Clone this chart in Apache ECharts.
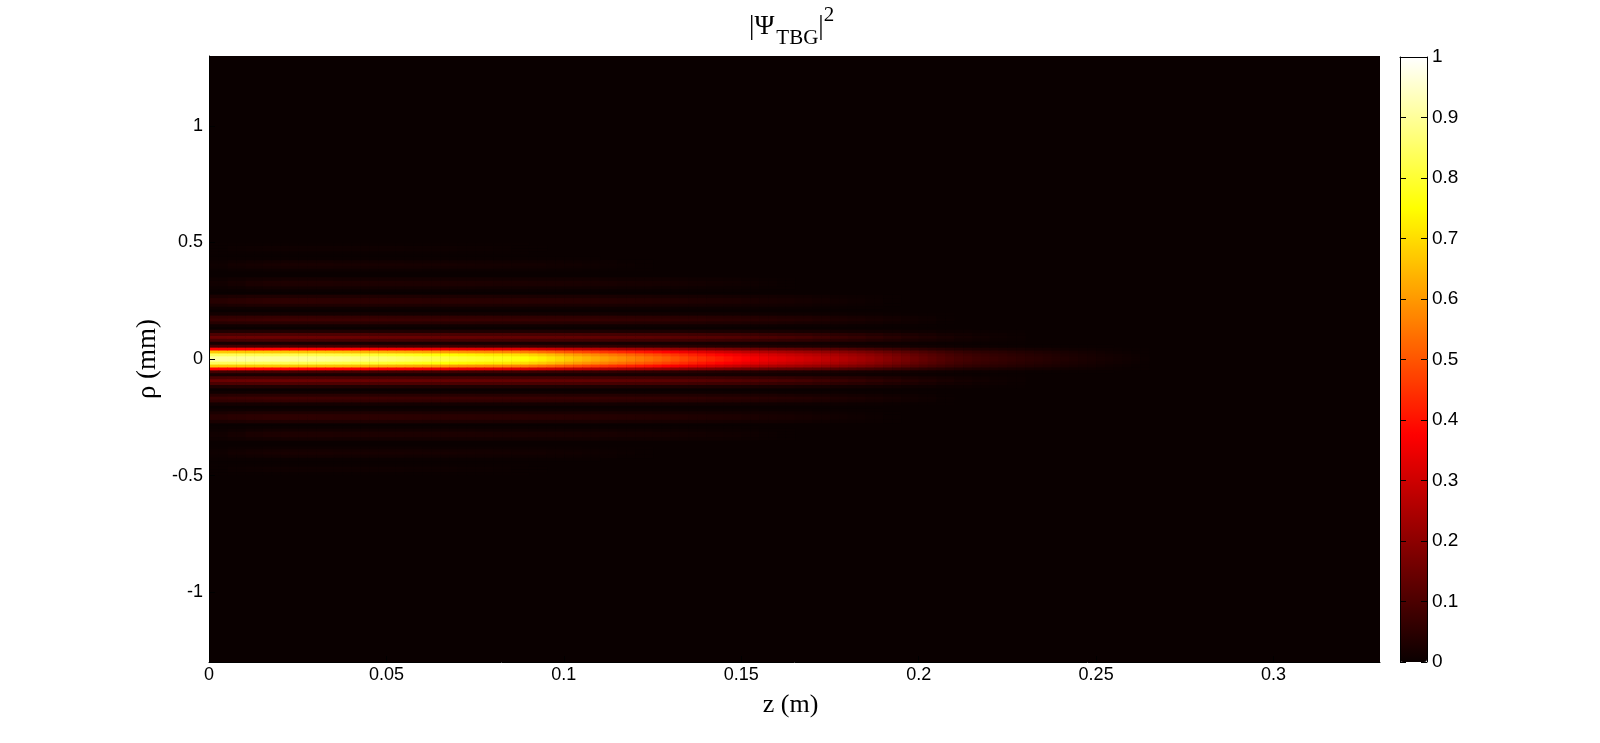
<!DOCTYPE html>
<html>
<head>
<meta charset="utf-8">
<style>html,body{margin:0;padding:0;background:#fff}#c{width:1600px;height:743px}</style>
<script src="https://cdn.jsdelivr.net/npm/echarts@6/dist/echarts.min.js"></script>
</head>
<body>
<div id="c"></div>
<script>
// Intensity (per-mille of full scale). The pattern is symmetric about rho=0;
// each row is a 0.0125 mm strip going outward from rho=0.
// Main beam: one value every 0.0025 m of z.
const coreRows = [
[905,905,904,904,903,902,901,900,899,898,896,894,891,888,884,880,875,870,865,860,855,849,843,836,829,822,815,808,801,795,789,783,778,772,765,755,740,725,708,690,672,656,640,625,610,596,582,568,554,540,525,510,492,475,458,442,428,414,400,386,372,360,349,339,329,319,309,299,289,278,267,256,244,232,219,205,191,177,163,149,136,124,112,101,92,85,78,73,68,63,58,54,49,45,41,37,33,29,25,22,18,15,12,9,6,3],
[838,838,837,837,836,835,834,833,832,831,829,827,824,821,818,814,809,805,800,796,791,785,780,773,767,760,754,747,741,735,730,724,720,714,708,698,684,670,654,638,621,606,591,578,564,551,538,525,512,499,485,471,454,438,422,408,394,381,368,355,342,331,321,312,302,293,284,275,265,255,245,235,224,213,201,188,175,162,149,136,124,113,102,92,83,76,70,65,60,56,51,47,43,39,36,32,28,25,21,18,15,12,10,7,5,2],
[670,670,669,669,668,667,667,666,665,665,663,662,659,657,654,651,647,644,640,636,633,628,624,619,613,608,603,598,593,588,584,579,576,571,566,559,548,536,524,511,497,485,474,463,451,441,431,420,410,400,389,377,364,351,339,327,317,306,296,286,275,266,258,251,243,236,228,221,214,206,198,190,181,172,162,152,141,130,119,109,99,90,81,73,66,60,55,51,47,44,40,37,33,30,27,24,21,18,15,13,10,8,6,4,2,1],
[380,380,380,380,379,379,378,378,378,377,376,375,374,373,371,370,367,365,363,361,359,357,354,351,348,345,342,339,336,334,331,328,327,324,321,317,311,304,297,290,282,276,269,263,256,250,244,238,232,227,220,214,207,200,192,186,180,174,168,162,156,151,147,142,138,134,130,125,121,116,111,106,100,95,89,83,76,70,64,58,52,47,43,38,34,31,28,26,24,22,20,18,16,14,13,11,9,8,7,6,5,4,3,2,1,1],
[85,85,85,85,85,85,85,85,85,85,84,84,84,84,83,83,82,82,81,81,80,80,79,79,78,77,76,76,75,75,74,73,73,72,71,70,69,68,66,65,63,62,60,59,57,56,54,53,52,50,49,47,45,43,41,40,38,37,35,34,33,32,30,29,28,28,27,26,25,24,23,21,20,19,18,17,15,14,13,11,10,9,8,7,6,5,5,4,4,3,3,3,2,2,2,2,1,1,1,1,1,1]
];
// Side fringes: one value every 0.005 m of z; rows continue outward from the main beam.
const fringeRows = [
[22,22,23,23,23,22,22,22,22,22,22,21,21,21,21,21,21,21,20,20,20,20,20,19,19,19,18,18,17,17,16,15,14,13,12,11,10,8,7,6,4,3,3,2,1,1],
[92,95,96,97,97,97,96,95,95,94,94,93,92,92,91,90,90,89,88,88,87,86,85,83,82,81,79,77,74,72,68,65,61,57,52,47,42,36,30,25,20,15,11,8,5,3],
[145,148,150,150,150,149,148,147,146,145,144,143,142,141,140,139,138,137,136,135,134,132,130,128,126,124,121,118,114,110,105,100,94,88,80,72,64,55,46,38,30,23,17,12,8,4],
[100,102,104,105,105,104,104,103,102,102,101,100,99,99,98,97,97,96,95,95,94,92,91,90,88,87,85,83,80,77,74,70,66,62,56,50,45,39,32,27,21,16,12,8,6,3],
[32,33,33,33,33,33,33,32,32,32,32,31,31,31,31,31,30,30,30,30,29,29,29,28,28,27,27,26,25,24,23,22,21,19,18,16,14,12,10,8,7,5,4,3,2,1],
[],
[9,9,10,10,10,10,10,10,10,10,9,9,9,9,9,9,9,9,9,9,8,8,8,8,8,8,7,7,7,6,6,6,5,5,4,4,3,3,2,1,1],
[43,45,47,48,48,48,47,47,47,46,45,45,44,44,44,43,43,42,42,41,40,40,39,38,37,36,34,33,31,30,28,27,24,22,20,17,15,12,9,7,4,2],
[70,73,75,77,77,77,76,75,75,74,73,72,71,71,71,70,69,68,67,66,65,65,63,61,60,58,55,53,50,48,45,43,39,36,32,28,24,20,15,11,7,3],
[56,58,60,62,62,62,61,60,60,59,58,58,57,57,57,56,55,54,54,53,52,52,50,49,48,46,44,42,40,38,36,34,31,29,26,22,19,16,12,9,6,2],
[14,15,15,15,15,15,15,15,15,15,15,14,14,14,14,14,14,14,13,13,13,13,13,12,12,12,11,11,10,10,9,9,8,7,6,6,5,4,3,2,1,1],
[],
[7,8,8,8,8,8,8,8,8,8,8,8,8,7,7,7,7,7,7,7,7,6,6,6,6,6,5,5,4,4,4,3,3,3,2,2,1,1],
[24,27,30,31,31,31,30,30,30,30,29,29,28,28,27,27,26,26,25,25,25,24,23,22,21,20,19,18,17,15,14,13,12,10,8,6,4,3,1],
[42,47,51,53,53,53,52,51,51,51,50,49,48,48,47,46,46,45,44,44,43,41,40,38,36,35,33,31,29,27,25,22,20,17,13,10,8,5,2],
[42,47,51,53,53,53,52,51,51,51,50,49,48,48,47,46,46,45,44,44,43,41,40,38,36,35,33,31,29,27,25,22,20,17,13,10,8,5,2],
[24,27,30,31,31,31,30,30,30,30,29,29,28,28,27,27,26,26,25,25,25,24,23,22,21,20,19,18,17,15,14,13,12,10,8,6,4,3,1],
[],
[1,2,3,3,3,3,3,3,3,3,3,3,3,3,3,3,3,3,3,3,2,2,2,2,2,2,2,1,1,1,1],
[5,8,11,13,14,14,14,13,13,13,13,13,13,13,13,12,12,12,11,11,11,10,10,9,9,8,7,6,5,4,3,2,1],
[11,17,24,28,29,29,29,28,28,28,28,27,27,27,27,26,25,25,24,24,23,22,21,19,18,17,15,13,11,9,7,5,2],
[12,18,25,29,30,30,30,29,29,29,29,28,28,28,28,27,26,26,25,25,24,23,22,20,19,18,16,14,12,10,7,5,2],
[7,10,14,16,17,17,17,16,16,16,16,15,15,15,15,15,14,14,14,14,13,13,12,11,10,10,9,8,7,6,4,3,1],
[],
[],
[2,4,5,6,6,6,6,6,6,6,6,6,5,5,5,5,5,4,4,3,3,2,2,1,1],
[6,10,14,16,17,17,17,16,16,16,16,15,14,14,14,13,12,11,10,9,8,6,5,3,2],
[7,13,17,20,21,21,21,20,20,20,20,19,18,18,17,16,15,14,13,11,10,8,6,4,2],
[4,8,10,12,13,13,13,12,12,12,12,11,11,11,10,10,9,8,8,7,6,5,4,2,1],
[1,1,2,2,2,2,2,2,2,2,2,2,2,2,2,2,2,1,1,1,1,1],
[],
[1,1,2,2,2,2,2,2,2,2,2,2,2,2,2,1,1,1],
[2,4,6,7,8,8,8,8,8,7,7,6,6,6,5,4,3,2,1],
[2,4,6,7,8,8,8,8,8,7,7,6,6,6,5,4,3,2,1],
[1,1,2,2,2,2,2,2,2,2,2,2,2,2,2,1,1,1]
];
const zTicks = [0, 0.05, 0.1, 0.15, 0.2, 0.25, 0.3];
const rhoTicks = [-1, -0.5, 0, 0.5, 1];
const hotColors = ['#0a0000','#5c0000','#ad0000','#ff0000','#ff5500','#ffaa00','#ffff00','#ffff80','#ffffff'];

const zCount = 132, rhoCount = 208;
const zCategories = Array.from({length: zCount}, (_, i) => ((i + 0.5) * 0.0025).toFixed(5));
const rhoCategories = Array.from({length: rhoCount}, (_, i) => ((i - rhoCount / 2 + 0.5) * 0.0125).toFixed(5));
const cells = [];
function addCell(i, k, v) {
  cells.push([i, rhoCount / 2 + k, v / 1000]);
  cells.push([i, rhoCount / 2 - 1 - k, v / 1000]);
}
coreRows.forEach((row, k) => row.forEach((v, i) => addCell(i, k, v)));
fringeRows.forEach((row, r) => row.forEach((v, i) => {
  addCell(2 * i, coreRows.length + r, v);
  addCell(2 * i + 1, coreRows.length + r, v);
}));

const serif = '"Liberation Serif","Times New Roman",serif';
const sans = '"Liberation Sans",Arial,sans-serif';
const titleFont = {fontFamily: serif, fontWeight: 'normal', color: '#000'};
const chart = echarts.init(document.getElementById('c'), null, {renderer: 'canvas'});
chart.setOption({
  animation: false,
  backgroundColor: '#fff',
  title: {
    text: '{m||Ψ}{g| }{s|TBG}{m||}{u|2}',
    left: 749, top: 7, padding: 0,
    textStyle: {
      fontWeight: 'normal',
      rich: {
        m: Object.assign({fontSize: 27, lineHeight: 40}, titleFont),
        g: Object.assign({fontSize: 8, lineHeight: 40}, titleFont),
        s: Object.assign({fontSize: 21, lineHeight: 40, padding: [22, 0, 0, 0]}, titleFont),
        u: Object.assign({fontSize: 21, lineHeight: 40, padding: [0, 0, 24, 0]}, titleFont)
      }
    }
  },
  grid: [
    {left: 210, right: 220, top: 56, height: 606, backgroundColor: '#0a0000', show: true, borderWidth: 0},
    {left: 209, right: 220, top: 56, height: 606, show: false},
    {left: 1400, width: 27, top: 57, height: 605, show: false}
  ],
  xAxis: [
    {type: 'category', gridIndex: 0, data: zCategories, show: false},
    {type: 'value', gridIndex: 1, min: 0, max: 0.33, position: 'bottom',
      axisLine: {show: true, onZero: false, lineStyle: {color: '#000'}}, z: 5,
      axisTick: {show: true, inside: true, length: 6, lineStyle: {color: '#000'}, customValues: zTicks},
      axisLabel: {color: '#000', fontFamily: sans, fontSize: 18, margin: 4, customValues: zTicks},
      splitLine: {show: false},
      name: 'z (m)', nameLocation: 'middle', nameGap: 30,
      nameTextStyle: {fontFamily: serif, fontSize: 26, color: '#000', padding: [0, 8, 0, 0]}},
    {type: 'value', gridIndex: 2, min: 0, max: 1, position: 'top', z: 5,
      axisLine: {show: true, onZero: false, lineStyle: {color: '#000'}}, axisTick: {show: false}, axisLabel: {show: false}, splitLine: {show: false}}
  ],
  yAxis: [
    {type: 'category', gridIndex: 0, data: rhoCategories, show: false},
    {type: 'value', gridIndex: 1, min: -1.3, max: 1.3, z: 5, position: 'left',
      axisLine: {show: true, onZero: false, lineStyle: {color: '#000'}},
      axisTick: {show: true, inside: true, length: 6, lineStyle: {color: '#000'}, customValues: rhoTicks},
      axisLabel: {color: '#000', fontFamily: sans, fontSize: 18, margin: 6, padding: [3, 0, 0, 0], customValues: rhoTicks},
      splitLine: {show: false},
      name: 'ρ (mm)', nameLocation: 'middle', nameGap: 43,
      nameTextStyle: {fontFamily: serif, fontSize: 27, color: '#000'}},
    {type: 'value', gridIndex: 2, min: 0, max: 1, interval: 0.1, position: 'left', z: 5,
      axisLine: {show: true, onZero: false, lineStyle: {color: '#000'}},
      axisTick: {show: true, inside: true, length: 6, lineStyle: {color: '#000'}},
      axisLabel: {show: false}, splitLine: {show: false}},
    {type: 'value', gridIndex: 2, min: 0, max: 1, interval: 0.1, position: 'right', z: 5,
      axisLine: {show: true, onZero: false, lineStyle: {color: '#000'}},
      axisTick: {show: true, inside: true, length: 6, lineStyle: {color: '#000'}},
      axisLabel: {color: '#000', fontFamily: sans, fontSize: 19, margin: 5, padding: [3, 0, 0, 0]},
      splitLine: {show: false}}
  ],
  visualMap: {
    type: 'continuous', min: 0, max: 1, seriesIndex: 0,
    left: 1400, top: 57, itemWidth: 27, itemHeight: 605, padding: 0,
    showLabel: false, calculable: false, hoverLink: false, realtime: false,
    inRange: {color: hotColors}
  },
  series: [{
    type: 'heatmap', xAxisIndex: 0, yAxisIndex: 0, data: cells,
    progressive: 0, animation: false, emphasis: {disabled: true}
  }]
});
</script>
</body>
</html>
